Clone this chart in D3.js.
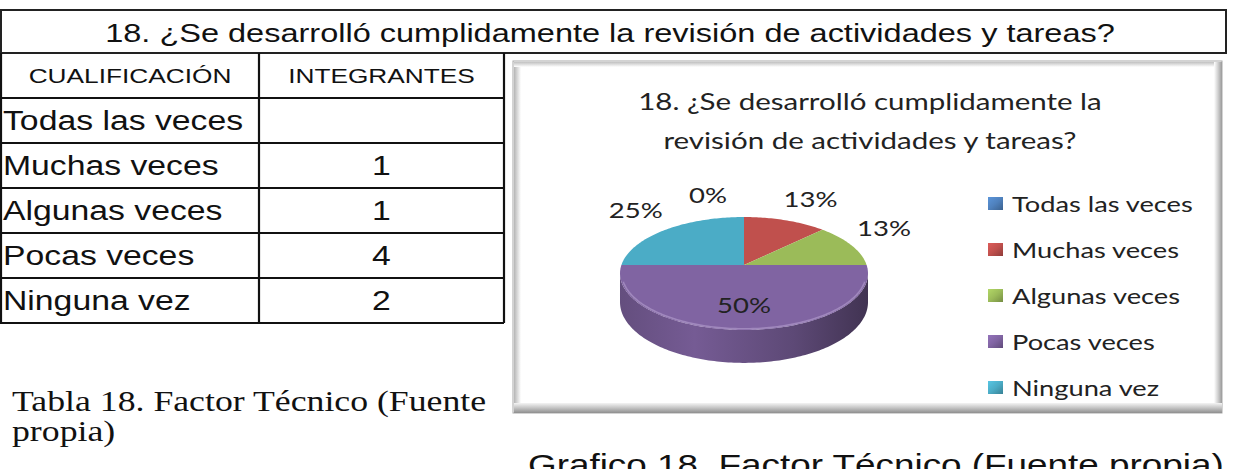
<!DOCTYPE html>
<html>
<meta charset="utf-8">
<head>
<title>Tabla 18 - Factor Tecnico</title>
<style>
body { margin: 0; background: #fff; }
.sans { font-family: "Liberation Sans", Arial, sans-serif; fill: #111; }
.serif { font-family: "Liberation Serif", "Times New Roman", serif; fill: #111; }
.cal { font-family: Lato, "Open Sans", sans-serif; fill: #222; }
</style>
</head>
<body>
<script src="https://d3js.org/d3.v7.min.js"></script>
<script>

// data
var categories = ["Todas las veces", "Muchas veces", "Algunas veces", "Pocas veces", "Ninguna vez"];
var integrantes = [null, 1, 1, 4, 2];   // first cell is empty in the table
var tableHeader = ["CUALIFICACIÓN", "INTEGRANTES"];
var questionTitle = "18. ¿Se desarrolló cumplidamente la revisión de actividades y tareas?";
var chartTitleLines = ["18. ¿Se desarrolló cumplidamente la", "revisión de actividades y tareas?"];
var tableCaption = ["Tabla 18. Factor Técnico (Fuente", "propia)"];
var chartCaption = "Grafico 18. Factor Técnico (Fuente propia)";
var sliceColors = ["#4F81BD", "#C0504D", "#9BBB59", "#8064A2", "#4BACC6"];

var W = 1242, H = 469;
var SX = 1.25;   // the source picture is stretched sideways

var svg = d3.select("body").append("svg")
    .attr("width", W).attr("height", H);

var defs = svg.append("defs");

function stretchText(g, x, y, str, anchor, cls, size) {
  return g.append("text")
    .attr("class", cls)
    .attr("transform", "translate(" + x + "," + y + ") scale(" + SX + ",1)")
    .attr("text-anchor", anchor)
    .style("font-size", size + "px")
    .text(str);
}

// ---------- question box ----------
svg.append("rect")
  .attr("x", 1).attr("y", 10).attr("width", 1225).attr("height", 43)
  .attr("fill", "none").attr("stroke", "#222").attr("stroke-width", 2);
stretchText(svg, 610, 42, questionTitle, "middle", "sans", 26);

// ---------- table ----------
var rows = [tableHeader].concat(categories.map(function(c, i) {
  return [c, integrantes[i] == null ? "" : String(integrantes[i])];
}));
var yRow = d3.scaleBand().domain(d3.range(rows.length)).range([53, 323]);
var colX = [1, 259, 504];

var table = svg.append("g");
yRow.domain().forEach(function(i) {
  table.append("line")
    .attr("x1", 0).attr("x2", 504)
    .attr("y1", yRow(i) + yRow.bandwidth()).attr("y2", yRow(i) + yRow.bandwidth())
    .attr("stroke", "#111").attr("stroke-width", 2.2);
});
colX.forEach(function(x) {
  table.append("line")
    .attr("x1", x).attr("x2", x).attr("y1", 53).attr("y2", 323)
    .attr("stroke", "#111").attr("stroke-width", 2.2);
});

rows.forEach(function(r, i) {
  var yc = yRow(i) + yRow.bandwidth() / 2;
  if (i === 0) {
    stretchText(table, (colX[0] + colX[1]) / 2, yc + 7.5, r[0], "middle", "sans", 21);
    stretchText(table, (colX[1] + colX[2]) / 2, yc + 7.5, r[1], "middle", "sans", 21);
  } else {
    stretchText(table, 3, yc + 9.5, r[0], "start", "sans", 27);
    stretchText(table, (colX[1] + colX[2]) / 2, yc + 9.5, r[1], "middle", "sans", 27);
  }
});

// ---------- chart frame ----------
var fx = 513, fy = 61, fw = 709, fh = 352;
function grad(id, x1, y1, x2, y2, stops) {
  var g = defs.append("linearGradient").attr("id", id)
    .attr("x1", x1).attr("y1", y1).attr("x2", x2).attr("y2", y2);
  stops.forEach(function(s) {
    g.append("stop").attr("offset", s[0]).attr("stop-color", s[1]);
  });
}
grad("fLeft", 0, 0, 1, 0, [[0, "#b5b5b5"], [1, "#ffffff"]]);
grad("fTop", 0, 0, 0, 1, [[0, "#c0c0c0"], [1, "#ffffff"]]);
grad("fRight", 0, 0, 1, 0, [[0, "#ffffff"], [0.5, "#d0d0d0"], [1, "#9a9a9a"]]);
grad("fBottom", 0, 0, 0, 1, [[0, "#f4f4f4"], [0.45, "#c8c8c8"], [1, "#8e8e8e"]]);

var frame = svg.append("g");
frame.append("rect").attr("x", fx).attr("y", fy).attr("width", fw).attr("height", fh)
  .attr("fill", "#fff").attr("stroke", "#a8a8a8").attr("stroke-width", 1);
frame.append("rect").attr("x", fx + 1).attr("y", fy + 1).attr("width", 7).attr("height", fh - 2).attr("fill", "url(#fLeft)");
frame.append("rect").attr("x", fx + 1).attr("y", fy + 1).attr("width", fw - 2).attr("height", 5).attr("fill", "url(#fTop)");
frame.append("rect").attr("x", fx + fw - 8).attr("y", fy + 1).attr("width", 8).attr("height", fh - 1).attr("fill", "url(#fRight)");
frame.append("rect").attr("x", fx + 1).attr("y", fy + fh - 10).attr("width", fw - 1).attr("height", 10).attr("fill", "url(#fBottom)");

// chart title
chartTitleLines.forEach(function(t, i) {
  stretchText(svg, 870, 110 + i * 39, t, "middle", "cal", 23.6);
});

// ---------- 3D pie ----------
var cx = 744, cy = 265, rx = 122.6, ry = 55.2, persp = 0.15, depth = 28;

function proj(a, r) {
  var u = r * Math.sin(a), v = r * Math.cos(a), w = 1 + persp * v;
  return [cx + rx * u / w, cy - ry * v / w];
}
function arcPoints(a0, a1, r) {
  var n = Math.max(2, Math.ceil(Math.abs(a1 - a0) / 0.02));
  return d3.range(n + 1).map(function(i) { return proj(a0 + (a1 - a0) * i / n, r); });
}

var pieData = categories.map(function(c, i) {
  return { name: c, value: integrantes[i] || 0, color: sliceColors[i] };
});
var total = d3.sum(pieData, function(d) { return d.value; });
var arcs = d3.pie().sort(null).value(function(d) { return d.value; })(pieData);
var fmtPct = d3.format(".0%");
var line = d3.line();

var pie = svg.append("g");

// visible side between the extreme left and right points of the rim
var vis0 = Math.acos(-persp), vis1 = 2 * Math.PI - Math.acos(-persp);
arcs.forEach(function(d, i) {
  var a0 = Math.max(d.startAngle, vis0), a1 = Math.min(d.endAngle, vis1);
  if (a1 <= a0) return;
  var c = d3.color(d.data.color);
  grad("side" + i, 0, 0, 1, 0, [
    [0, c.darker(0.7)], [0.3, c.darker(0.25)], [0.7, c.darker(0.9)], [1, c.darker(1.9)]
  ]);
  var top = arcPoints(a0, a1, 1);
  var bottom = top.map(function(p, j) {
    var a = a0 + (a1 - a0) * j / (top.length - 1);
    var w = 1 + persp * Math.cos(a);
    return [p[0], p[1] + depth / w];
  }).reverse();
  pie.append("path")
    .attr("d", line(top.concat(bottom)) + "Z")
    .attr("fill", "url(#side" + i + ")");
});

arcs.forEach(function(d) {
  if (d.endAngle - d.startAngle <= 0) return;
  var pts = [proj(0, 0)].concat(arcPoints(d.startAngle, d.endAngle, 1));
  pie.append("path")
    .attr("d", line(pts) + "Z")
    .attr("fill", d.data.color);
});

// soft light rim at the front edge of the top face
pie.append("path")
  .attr("d", line(arcPoints(vis0 + 0.15, vis1 - 0.15, 0.985)))
  .attr("fill", "none")
  .attr("stroke", "#b9a6d4").attr("stroke-width", 1.6).attr("stroke-opacity", 0.55);

// percentage labels
arcs.forEach(function(d) {
  var share = d.data.value / total;
  var mid = (d.startAngle + d.endAngle) / 2;
  var p;
  if (share >= 0.5) {
    p = proj(mid, 0.65);
  } else {
    var e = proj(mid, 1), u = Math.sin(mid), v = Math.cos(mid);
    var side = u > 0.01 ? 1 : -1;
    var dx = d.data.value === 0 ? 36 : 20 + 14 * Math.abs(u);
    p = [e[0] + side * dx, e[1] - 14 - 8 * v];
  }
  stretchText(pie, p[0], p[1] + 8, fmtPct(share), "middle", "cal", 22);
});

// ---------- legend ----------
var yLeg = d3.scalePoint().domain(categories).range([204, 388]);
var legend = svg.append("g");
pieData.forEach(function(d, i) {
  var y = yLeg(d.name);
  var c = d3.color(d.color);
  grad("leg" + i, 0, 0, 1, 1, [[0, c.brighter(0.4)], [0.5, c], [1, c.darker(0.8)]]);
  legend.append("rect")
    .attr("x", 988).attr("y", y - 7).attr("width", 15).attr("height", 13)
    .attr("fill", "url(#leg" + i + ")");
  stretchText(legend, 1012, y + 8, d.name, "start", "cal", 21.8);
});

// ---------- captions ----------
tableCaption.forEach(function(t, i) {
  stretchText(svg, 12, 411 + i * 30, t, "start", "serif", 28.6);
});
stretchText(svg, 528, 475, chartCaption, "start", "sans", 29.5);

</script>
</body>
</html>
